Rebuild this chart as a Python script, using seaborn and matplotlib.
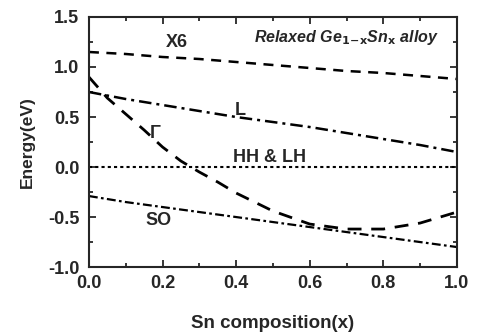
import matplotlib
matplotlib.use("Agg")
import matplotlib.pyplot as plt
from matplotlib.ticker import MultipleLocator
import seaborn as sns
import pandas as pd

sns.set_style("ticks")
plt.rcParams['font.family'] = ['Liberation Sans', 'DejaVu Sans']
plt.rcParams['font.weight'] = 'bold'
plt.rcParams['axes.unicode_minus'] = False

x = [0.0, 0.1, 0.2, 0.3, 0.4, 0.5, 0.6, 0.7, 0.8, 0.9, 1.0]
x6 = [1.15, 1.13, 1.10, 1.08, 1.05, 1.02, 0.99, 0.96, 0.94, 0.91, 0.88]
l_band = [0.75, 0.68, 0.62, 0.56, 0.50, 0.45, 0.40, 0.34, 0.28, 0.22, 0.15]
gamma_x = [0.0, 0.05, 0.1, 0.15, 0.2, 0.25, 0.3, 0.35, 0.4, 0.5, 0.6, 0.7, 0.8, 0.9, 1.0]
gamma = [0.90, 0.69, 0.53, 0.37, 0.20, 0.06, -0.05, -0.15, -0.26, -0.44, -0.57, -0.62, -0.62, -0.56, -0.45]
hh = [0.0] * 11
so = [-0.29, -0.35, -0.40, -0.45, -0.50, -0.55, -0.60, -0.65, -0.70, -0.75, -0.80]

fig = plt.figure(figsize=(4.78, 3.33), dpi=100)
ax = fig.add_axes([0.186, 0.198, 0.770, 0.751])

df = pd.DataFrame({"x": x, "x6": x6, "L": l_band, "hh": hh, "so": so})
dg = pd.DataFrame({"x": gamma_x, "g": gamma})

sns.lineplot(data=df, x="x", y="x6", ax=ax, color="black", lw=1.8, linestyle=(0, (4, 3)))
sns.lineplot(data=df, x="x", y="L", ax=ax, color="black", lw=1.8, linestyle=(0, (5, 2, 1.2, 2)))
sns.lineplot(data=dg, x="x", y="g", ax=ax, color="black", lw=2.0, linestyle=(0, (5, 3.5)))
sns.lineplot(data=df, x="x", y="hh", ax=ax, color="black", lw=1.5, linestyle=(0, (1.5, 1.5)))
sns.lineplot(data=df, x="x", y="so", ax=ax, color="black", lw=1.6, linestyle=(0, (4, 1.5, 1.2, 1.5)))

ax.set_xlim(0, 1.0)
ax.set_ylim(-1.0, 1.5)
ax.xaxis.set_major_locator(MultipleLocator(0.2))
ax.xaxis.set_minor_locator(MultipleLocator(0.1))
ax.yaxis.set_major_locator(MultipleLocator(0.5))
ax.yaxis.set_minor_locator(MultipleLocator(0.25))
ax.tick_params(which='both', direction='in', top=True, right=True, width=1.3)
ax.tick_params(which='major', length=5, labelsize=13)
ax.tick_params(axis='x', which='major', pad=6)
ax.tick_params(axis='y', which='major', pad=7)
ax.tick_params(which='minor', length=3)
for lab in ax.get_xticklabels() + ax.get_yticklabels():
    lab.set_fontweight('bold')
for s in ax.spines.values():
    s.set_linewidth(1.5)

ax.set_xlabel("Sn composition(x)", fontsize=13.5, fontweight='bold', labelpad=16)
ax.set_ylabel("Energy(eV)", fontsize=12.5, fontweight='bold', labelpad=9)

kw = dict(fontsize=13, fontweight='bold', ha='center', va='center')
ax.text(0.24, 1.24, "X6", **kw)
ax.text(0.41, 0.57, "L", **kw)
ax.text(0.18, 0.34, "Γ", **kw)
ax.text(0.49, 0.10, "HH & LH", **kw)
ax.text(0.19, -0.53, "SO", **kw)
ax.text(0.70, 1.29, r"Relaxed Ge$_{\mathbf{1\!-\!x}}$Sn$_{\mathbf{x}}$ alloy", fontsize=11.5,
        fontweight='bold', ha='center', va='center', style='italic')

fig.savefig("out.png", dpi=100)
